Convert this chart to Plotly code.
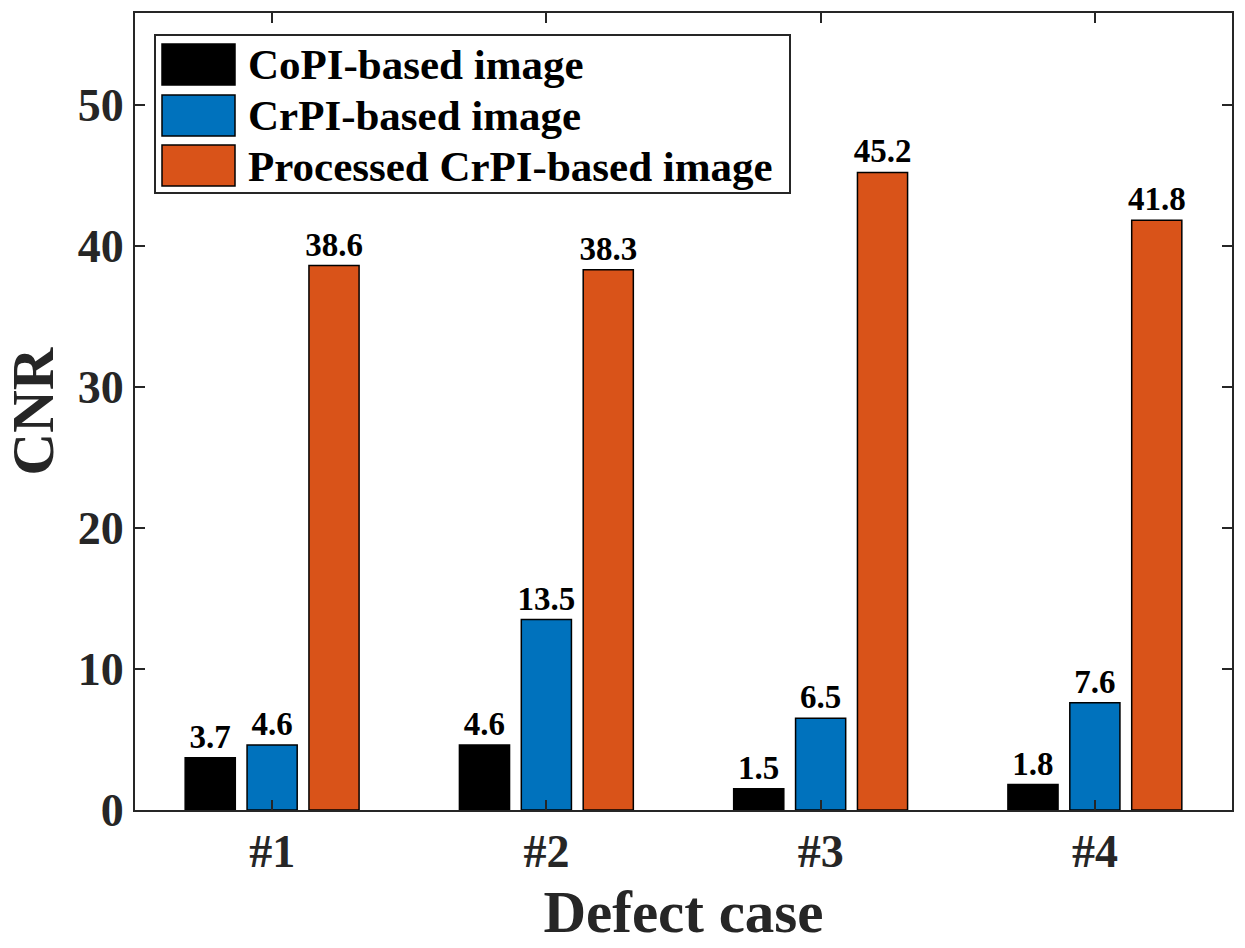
import plotly.graph_objects as go

categories = ["#1", "#2", "#3", "#4"]
series_names = ["CoPI-based image", "CrPI-based image", "Processed CrPI-based image"]
copi = [3.7, 4.6, 1.5, 1.8]
crpi = [4.6, 13.5, 6.5, 7.6]
processed = [38.6, 38.3, 45.2, 41.8]
y_ticks = [0, 10, 20, 30, 40, 50]
colors = ["#000000", "#0072BD", "#D95319"]

FONT = "Liberation Serif, Times New Roman, serif"
W, H = 1245, 948
ML, MR, MT, MB = 135, 13, 13, 138
PW, PH = W - ML - MR, H - MT - MB

def px_x(x):
    return (x - ML) / PW

def px_y(y):
    return (H - MB - y) / PH

fig = go.Figure()
xs = [1, 2, 3, 4]
for name, vals, col in zip(series_names, [copi, crpi, processed], colors):
    fig.add_trace(go.Bar(
        x=xs, y=vals, name=name,
        marker=dict(color=col, line=dict(color="#000000", width=1.5)),
        text=[f"{v:.1f}" for v in vals], textposition="outside",
        constraintext="none",
        textfont=dict(family=FONT, size=33, color="#000000", weight="bold"),
        cliponaxis=False, showlegend=False,
    ))

axis_common = dict(
    showline=True, linecolor="#262626", linewidth=2, mirror="ticks",
    ticks="inside", ticklen=10, tickwidth=2, tickcolor="#262626",
    showgrid=False, zeroline=False,
    tickfont=dict(family=FONT, size=46, color="#262626", weight="bold"),
)

fig.update_layout(
    width=W, height=H,
    margin=dict(l=ML, r=MR, t=MT, b=MB),
    plot_bgcolor="white", paper_bgcolor="white",
    barmode="group", bargap=0.323, bargroupgap=0.19,
    xaxis=dict(**axis_common, range=[0.5, 4.5], tickvals=xs, ticktext=categories,
               title=dict(text="Defect case", standoff=14,
                          font=dict(family=FONT, size=59, color="#262626", weight="bold"))),
    yaxis=dict(**axis_common, range=[0, 56.5], tickvals=y_ticks,
               title=dict(text="CNR", standoff=16,
                          font=dict(family=FONT, size=59, color="#262626", weight="bold"))),
    showlegend=False,
)

# Manual legend (MATLAB style) in paper coordinates
shapes = [dict(type="rect", xref="paper", yref="paper",
               x0=px_x(155), x1=px_x(790), y0=px_y(193), y1=px_y(35),
               line=dict(color="#262626", width=2), fillcolor="white", layer="above")]
annotations = []
row_tops = [44, 95, 145]
for i, (name, col) in enumerate(zip(series_names, colors)):
    t = row_tops[i]
    shapes.append(dict(type="rect", xref="paper", yref="paper",
                       x0=px_x(162), x1=px_x(235), y0=px_y(t + 41), y1=px_y(t),
                       line=dict(color="#000000", width=1.5), fillcolor=col, layer="above"))
    annotations.append(dict(xref="paper", yref="paper", x=px_x(246), y=px_y(t + 21),
                            xanchor="left", yanchor="middle", text=name, showarrow=False,
                            font=dict(family=FONT, size=43, color="#000000", weight="bold")))
fig.update_layout(shapes=shapes, annotations=annotations)

fig.write_html("out.html")
